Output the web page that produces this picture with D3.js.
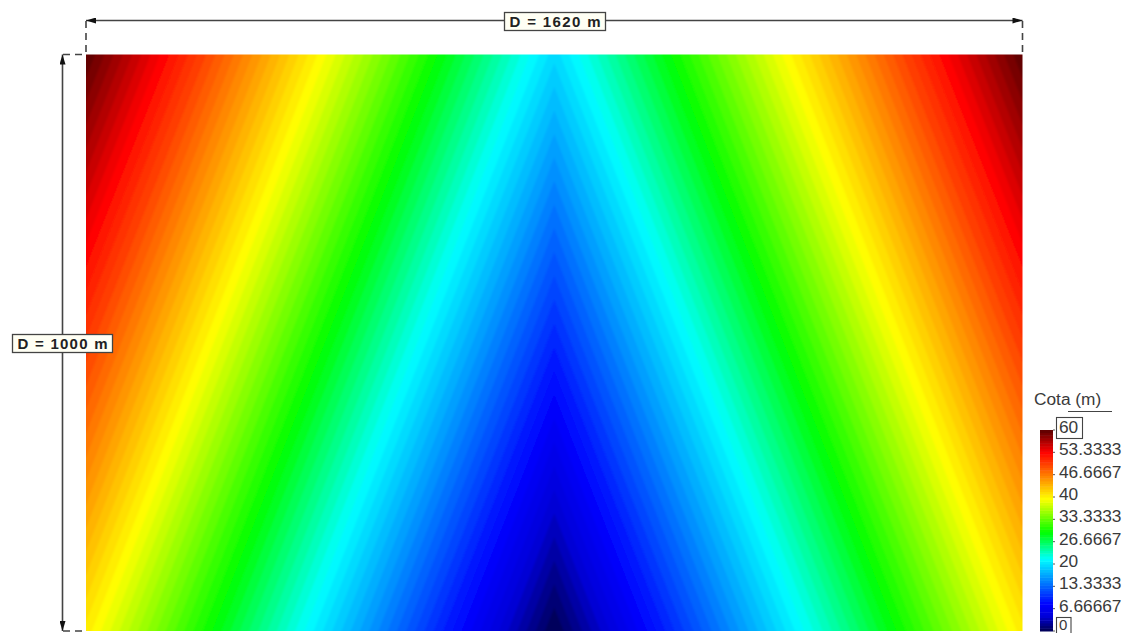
<!DOCTYPE html>
<html>
<head>
<meta charset="utf-8">
<script src="https://cdn.jsdelivr.net/npm/d3@7"></script>
<style>
html,body{margin:0;padding:0;background:#fff;overflow:hidden}
svg{display:block}
</style>
</head>
<body>
<svg id="chart" width="1126" height="633"></svg>
<script>
// Distances (m) and elevations (m)
const xStations = [0, 405, 810, 1215, 1620];
const yStations = [0, 250, 500, 750, 1000];
const row0    = [60, 39.75, 19.5, 39.75, 60];
const row250  = [55.1, 34.9, 14.6, 34.9, 55.1];
const row500  = [50.25, 30, 9.75, 30, 50.25];
const row750  = [45.4, 25.1, 4.9, 25.1, 45.4];
const row1000 = [40.5, 20.25, 0, 20.25, 40.5];
const colorStops = [0, 4.5, 8, 21.5, 29.5, 39.5, 53.4, 60];
const colorNames = ["#000050", "#0000d8", "#0000ff", "#00ffff", "#00ff00", "#ffff00", "#ff0000", "#5a0000"];
const legendTicks = [60, 53.3333, 46.6667, 40, 33.3333, 26.6667, 20, 13.3333, 6.66667, 0];
const legendLabels = ["60", "53.3333", "46.6667", "40", "33.3333", "26.6667", "20", "13.3333", "6.66667", "0"];
const widthLabel = "D = 1620 m";
const heightLabel = "D = 1000 m";
const legendTitle = "Cota (m)";
const bandStep = 0.8;

const svg = d3.select("#chart");
const x = d3.scaleLinear().domain([0, 1620]).range([86, 1022.5]);
const y = d3.scaleLinear().domain([0, 1000]).range([54.5, 631]);
const color = d3.scaleLinear().domain(colorStops).range(colorNames).clamp(true);

const defs = svg.append("defs");
defs.append("clipPath").attr("id", "plot").append("rect")
  .attr("x", x(0)).attr("y", y(0)).attr("width", x(1620) - x(0)).attr("height", y(1000) - y(0));
defs.append("filter").attr("id", "soft").attr("x", "-5%").attr("y", "-5%").attr("width", "110%").attr("height", "110%")
  .append("feGaussianBlur").attr("stdDeviation", 1.3);
const arrow = defs.append("marker").attr("id", "arrow").attr("viewBox", "0 0 10 6")
  .attr("refX", 10).attr("refY", 3).attr("markerUnits", "userSpaceOnUse")
  .attr("markerWidth", 11).attr("markerHeight", 6).attr("orient", "auto-start-reverse");
arrow.append("path").attr("d", "M0,0L10,3L0,6Z").attr("fill", "#111");

// Filled elevation field
const rows = [row0, row250, row500, row750, row1000];
const grid = rows.flat();
const thresholds = d3.range(0, 60, bandStep);
const contours = d3.contours().size([xStations.length, yStations.length]).thresholds(thresholds).smooth(true)(grid);
const gx = d3.scaleLinear().domain([0.5, xStations.length - 0.5]).range([x(xStations[0]), x(xStations[xStations.length - 1])]);
const gy = d3.scaleLinear().domain([0.5, yStations.length - 0.5]).range([y(yStations[0]), y(yStations[yStations.length - 1])]);
const path = d3.geoPath(d3.geoTransform({
  point(px, py) { this.stream.point(gx(px), gy(py)); }
}));
svg.append("g").attr("clip-path", "url(#plot)")
  .append("g").attr("filter", "url(#soft)")
  .selectAll("path").data(contours).join("path")
  .attr("d", path)
  .attr("fill", d => color(d.value + bandStep / 2));

// Dimension lines
const dim = svg.append("g").attr("fill", "none").attr("stroke", "#444");
dim.append("line").attr("x1", x(0)).attr("x2", x(1620)).attr("y1", 20.5).attr("y2", 20.5)
  .attr("stroke-width", 1.6).attr("marker-start", "url(#arrow)").attr("marker-end", "url(#arrow)");
dim.append("line").attr("x1", 62.5).attr("x2", 62.5).attr("y1", y(0)).attr("y2", y(1000))
  .attr("stroke-width", 1.6).attr("marker-start", "url(#arrow)").attr("marker-end", "url(#arrow)");
[x(0), x(1620)].forEach(px => dim.append("line").attr("x1", px).attr("x2", px).attr("y1", 21).attr("y2", 54)
  .attr("stroke-width", 1.6).attr("stroke-dasharray", "7,5"));
[y(0), y(1000)].forEach(py => dim.append("line").attr("x1", 63).attr("x2", 86).attr("y1", py).attr("y2", py)
  .attr("stroke-width", 1.6).attr("stroke-dasharray", "7,5"));

function boxedLabel(text, left, top, w, h) {
  const g = svg.append("g");
  g.append("rect").attr("x", left).attr("y", top).attr("width", w).attr("height", h)
    .attr("fill", "#fffff4").attr("stroke", "#444").attr("stroke-width", 1.3);
  g.append("text").attr("x", left + w / 2).attr("y", top + h / 2 + 5.5)
    .attr("text-anchor", "middle").attr("font-family", "'Liberation Sans',Arial,sans-serif")
    .attr("font-weight", "bold").attr("font-size", 15).attr("fill", "#222").attr("textLength", w - 10)
    .text(text);
}
boxedLabel(widthLabel, 504.5, 12.5, 101, 18);
boxedLabel(heightLabel, 12.5, 334.5, 100, 18);

// Colour legend
const ly = d3.scaleLinear().domain([0, 60]).range([631, 430]);
const legend = svg.append("g");
legend.selectAll("rect").data(thresholds).join("rect")
  .attr("x", 1040).attr("width", 13)
  .attr("y", d => ly(d + bandStep))
  .attr("height", d => ly(d) - ly(d + bandStep) + 0.5)
  .attr("fill", d => color(d + bandStep / 2));
legend.selectAll("line").data(legendTicks).join("line")
  .attr("x1", 1053).attr("x2", 1055).attr("y1", d => ly(d)).attr("y2", d => ly(d)).attr("stroke", "#555");
legend.selectAll("text.tick").data(legendTicks).join("text").attr("class", "tick")
  .attr("x", 1059).attr("y", d => d === 0 ? 629.5 : ly(d) + 3)
  .attr("font-family", "'Liberation Sans',Arial,sans-serif").attr("font-size", d => d === 0 ? 15 : 17.3).attr("fill", "#3a3a3a")
  .text((d, i) => legendLabels[i]);
legend.append("rect").attr("x", 1056.5).attr("y", 417.5).attr("width", 26).attr("height", 21)
  .attr("fill", "none").attr("stroke", "#444").attr("stroke-width", 1.1);
legend.append("rect").attr("x", 1056.5).attr("y", 617.5).attr("width", 14.5).attr("height", 25)
  .attr("fill", "none").attr("stroke", "#444").attr("stroke-width", 1.1);
legend.append("text").attr("x", 1034).attr("y", 405)
  .attr("font-family", "'Liberation Sans',Arial,sans-serif").attr("font-size", 17.3).attr("fill", "#3a3a3a")
  .text(legendTitle);
legend.append("line").attr("x1", 1068).attr("x2", 1112).attr("y1", 411.5).attr("y2", 411.5)
  .attr("stroke", "#444").attr("stroke-width", 1.2);
</script>
</body>
</html>
